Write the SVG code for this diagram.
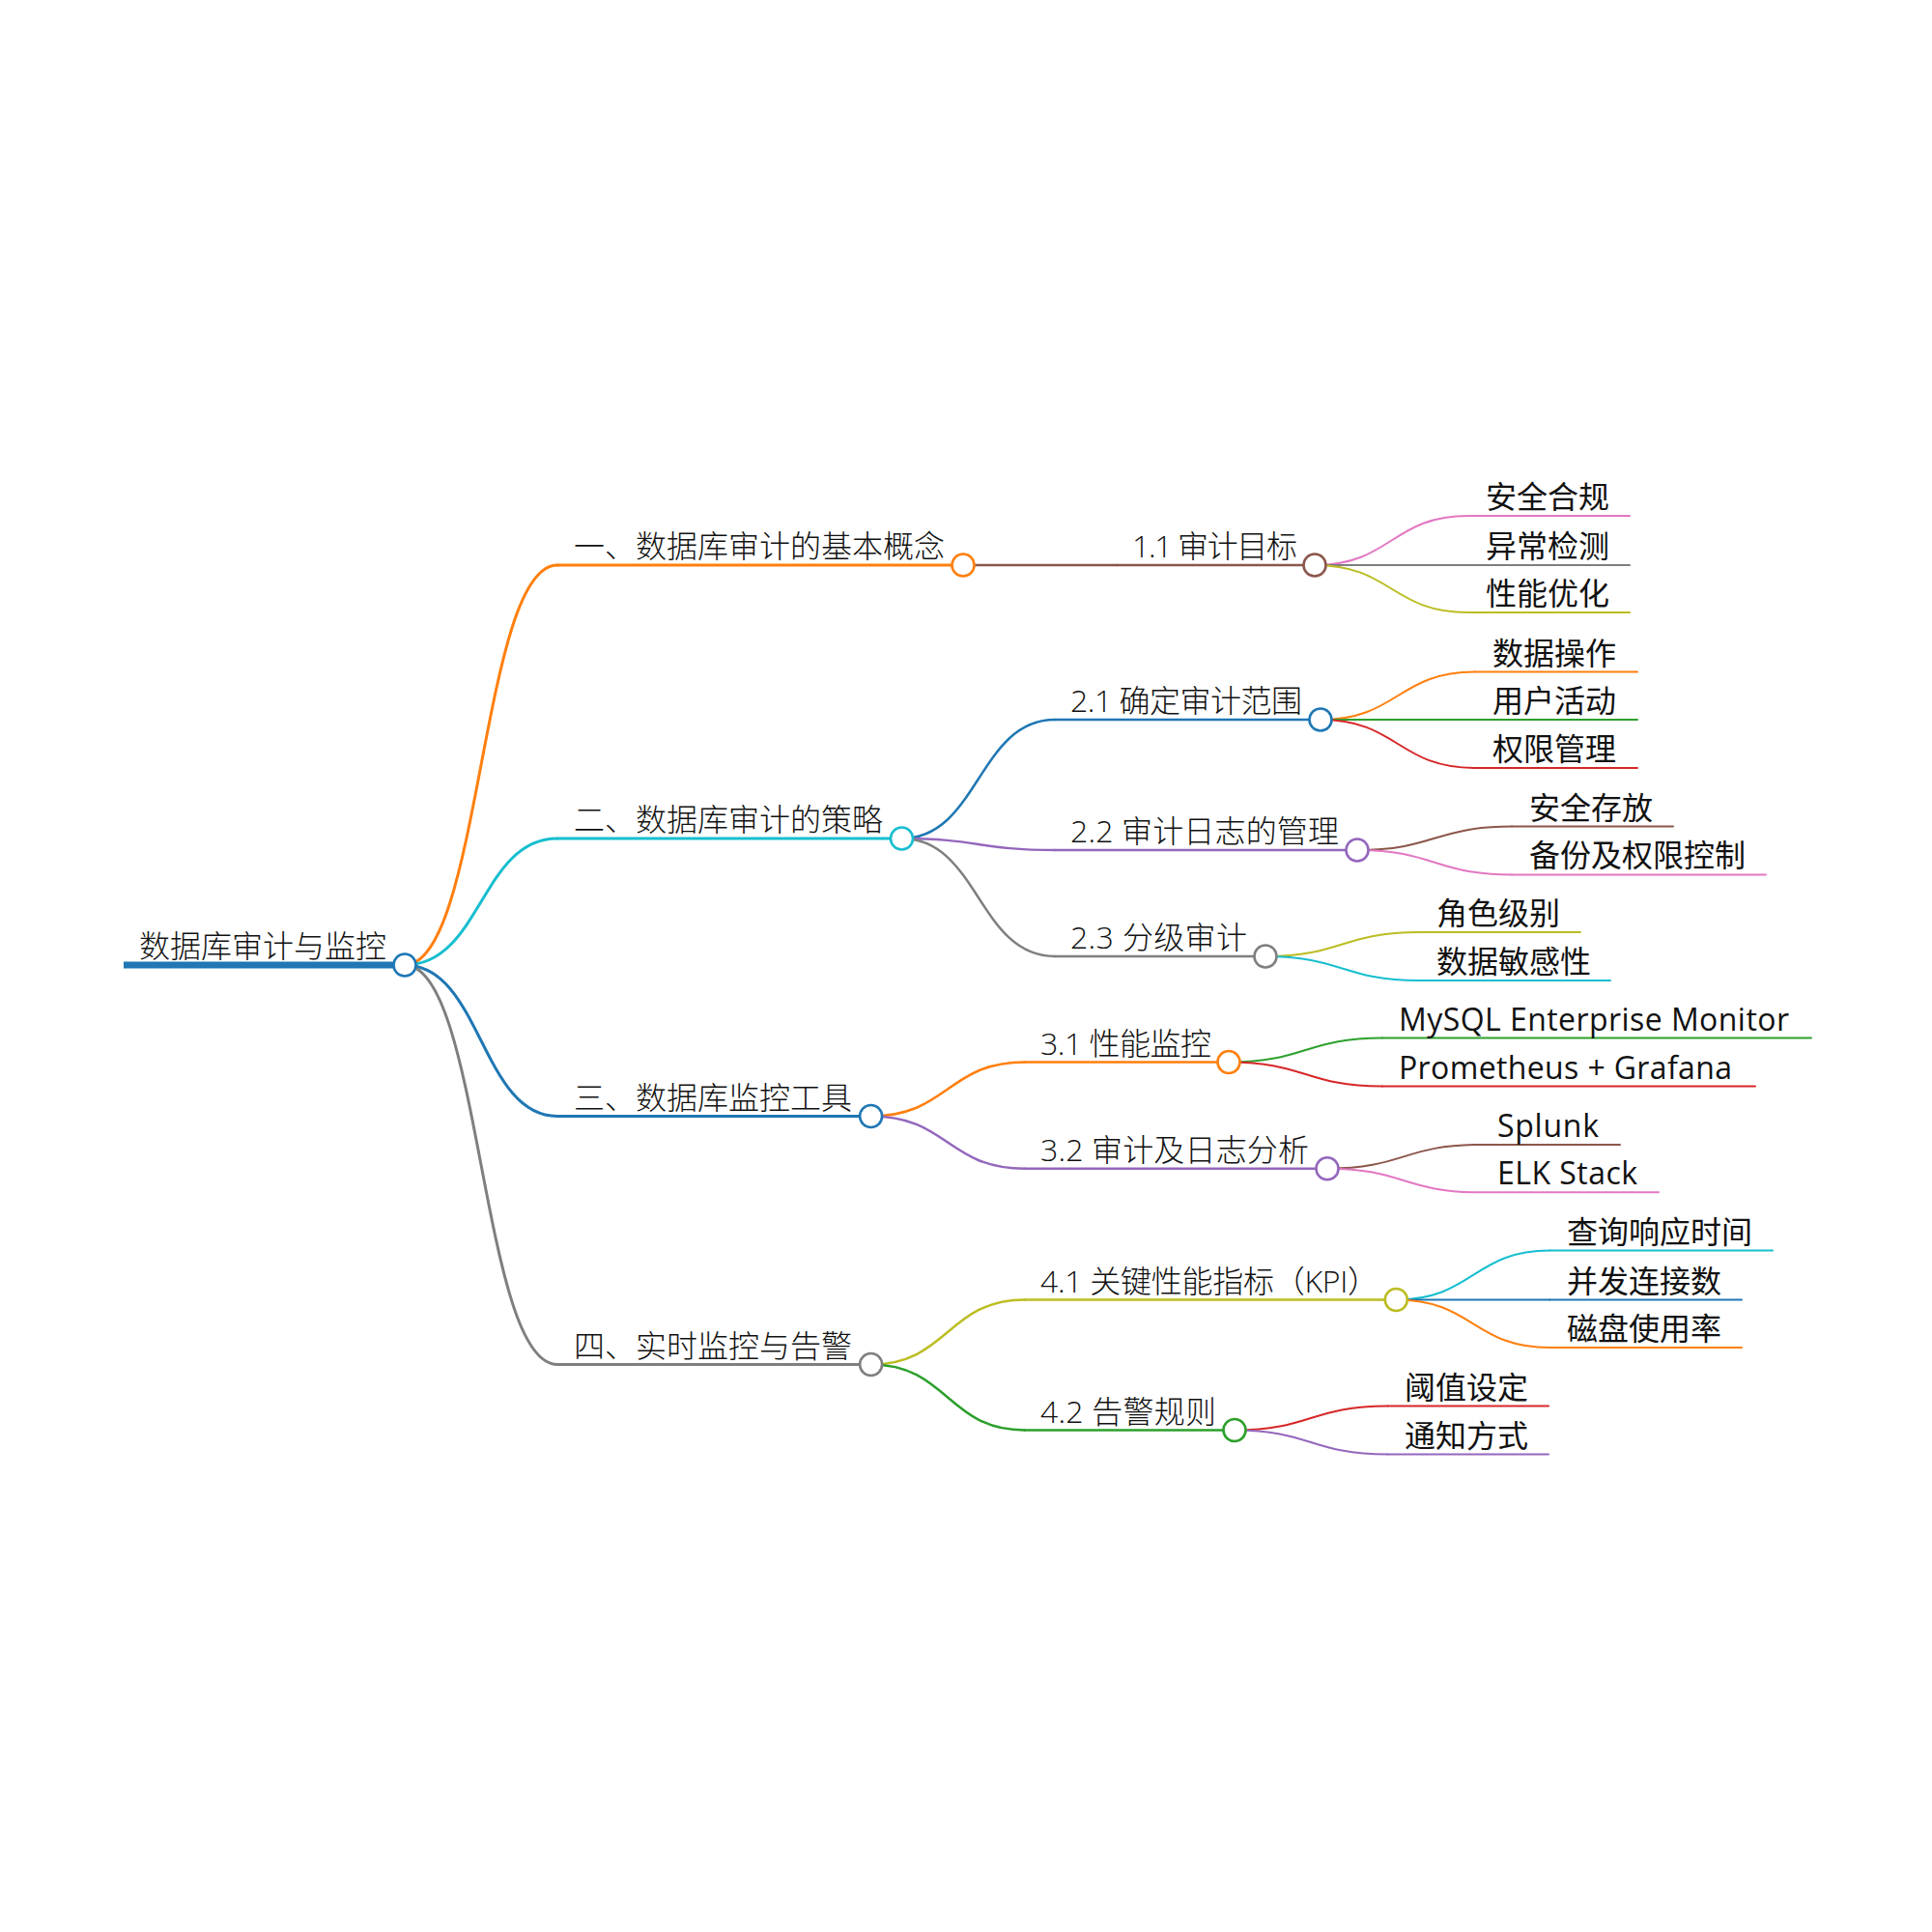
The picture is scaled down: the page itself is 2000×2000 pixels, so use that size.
<svg xmlns="http://www.w3.org/2000/svg" width="2000" height="2000" viewBox="0 0 2000 2000">
<style>
text{font-family:"Open Sans","Noto Sans CJK SC",sans-serif;font-size:32px;font-weight:300;fill:#111;}
.leaf text{font-weight:400;}
.l{fill:none;stroke-linecap:round;}
.c{fill:#fff;stroke-width:2.6;}
.w0{stroke-width:7;}
.w1{stroke-width:3;}
.w2{stroke-width:2.5;}
.w3{stroke-width:2;}
.or{stroke:#ff7f0e;}.cy{stroke:#17becf;}.bl{stroke:#1f77b4;}.gy{stroke:#7f7f7f;}
.br{stroke:#8c564b;}.pu{stroke:#9467bd;}.ol{stroke:#bcbd22;}.gr{stroke:#2ca02c;}
.rd{stroke:#d62728;}.pk{stroke:#e377c2;}
</style>
<rect width="2000" height="2000" fill="#fff"/>
<g id="connectors" class="links">
<path class="l w1 or" d="M419,999 C498,999 498,585 577,585"/>
<path class="l w1 cy" d="M419,999 C498,999 498,868 577,868"/>
<path class="l w1 bl" d="M419,999 C498,999 498,1155.5 577,1155.5"/>
<path class="l w1 gy" d="M419,999 C498,999 498,1412.5 577,1412.5"/>
<path class="l w2 br" d="M997,585 L1156,585"/>
<path class="l w2 bl" d="M933.5,868 C1012.75,868 1012.75,745 1092,745"/>
<path class="l w2 pu" d="M933.5,868 C1012.75,868 1012.75,880 1092,880"/>
<path class="l w2 gy" d="M933.5,868 C1012.75,868 1012.75,990 1092,990"/>
<path class="l w2 or" d="M901.6,1155.5 C981,1155.5 981,1099.5 1060.6,1099.5"/>
<path class="l w2 pu" d="M901.6,1155.5 C981,1155.5 981,1209.7 1060.6,1209.7"/>
<path class="l w2 ol" d="M901.6,1412.5 C981,1412.5 981,1345.5 1060.6,1345.5"/>
<path class="l w2 gr" d="M901.6,1412.5 C981,1412.5 981,1480.5 1060.6,1480.5"/>
<path class="l w3 pk" d="M1361,585 C1440.5,585 1440.5,534 1520,534"/>
<path class="l w3 gy" d="M1361,585 L1520,585"/>
<path class="l w3 ol" d="M1361,585 C1440.5,585 1440.5,634 1520,634"/>
<path class="l w3 or" d="M1367,745 C1447,745 1447,695.5 1527,695.5"/>
<path class="l w3 gr" d="M1367,745 L1527,745"/>
<path class="l w3 rd" d="M1367,745 C1447,745 1447,795 1527,795"/>
<path class="l w3 br" d="M1405,880 C1485,880 1485,855.6 1565,855.6"/>
<path class="l w3 pk" d="M1405,880 C1485,880 1485,905.4 1565,905.4"/>
<path class="l w3 ol" d="M1310,990 C1389.5,990 1389.5,965 1469,965"/>
<path class="l w3 cy" d="M1310,990 C1389.5,990 1389.5,1015 1469,1015"/>
<path class="l w3 gr" d="M1272,1099.5 C1351.5,1099.5 1351.5,1074.5 1431,1074.5"/>
<path class="l w3 rd" d="M1272,1099.5 C1351.5,1099.5 1351.5,1124.5 1431,1124.5"/>
<path class="l w3 br" d="M1374,1209.7 C1453,1209.7 1453,1185 1532,1185"/>
<path class="l w3 pk" d="M1374,1209.7 C1453,1209.7 1453,1234.3 1532,1234.3"/>
<path class="l w3 cy" d="M1445.3,1345.5 C1525,1345.5 1525,1294.5 1604.3,1294.5"/>
<path class="l w3 bl" d="M1445.3,1345.5 L1604.3,1345.5"/>
<path class="l w3 or" d="M1445.3,1345.5 C1525,1345.5 1525,1395 1604.3,1395"/>
<path class="l w3 rd" d="M1278,1480.5 C1357,1480.5 1357,1455.5 1436.5,1455.5"/>
<path class="l w3 pu" d="M1278,1480.5 C1357,1480.5 1357,1505.5 1436.5,1505.5"/>
</g>
<g id="root">
<path class="l w0 bl" style="stroke-linecap:butt" d="M128,999 L419,999"/>
<text x="144" y="991">数据库审计与监控</text>
<circle class="c bl" cx="419" cy="999" r="11.5"/>
</g>
<g id="n1">
<path class="l w1 or" d="M577,585 L997,585"/>
<text x="594" y="577">一、数据库审计的基本概念</text>
<circle class="c or" cx="997" cy="585" r="11.5"/>
</g>
<g id="n2">
<path class="l w1 cy" d="M577,868 L933.5,868"/>
<text x="594" y="860">二、数据库审计的策略</text>
<circle class="c cy" cx="933.5" cy="868" r="11.5"/>
</g>
<g id="n3">
<path class="l w1 bl" d="M577,1155.5 L901.6,1155.5"/>
<text x="594" y="1147.5">三、数据库监控工具</text>
<circle class="c bl" cx="901.6" cy="1155.5" r="11.5"/>
</g>
<g id="n4">
<path class="l w1 gy" d="M577,1412.5 L901.6,1412.5"/>
<text x="594" y="1404.5">四、实时监控与告警</text>
<circle class="c gy" cx="901.6" cy="1412.5" r="11.5"/>
</g>
<g id="n1-1">
<path class="l w2 br" d="M1156,585 L1361,585"/>
<text x="1172" y="577" textLength="171">1.1 审计目标</text>
<circle class="c br" cx="1361" cy="585" r="11.5"/>
</g>
<g id="n2-1">
<path class="l w2 bl" d="M1092,745 L1367,745"/>
<text x="1108" y="737" textLength="240">2.1 确定审计范围</text>
<circle class="c bl" cx="1367" cy="745" r="11.5"/>
</g>
<g id="n2-2">
<path class="l w2 pu" d="M1092,880 L1405,880"/>
<text x="1108" y="872" textLength="278">2.2 审计日志的管理</text>
<circle class="c pu" cx="1405" cy="880" r="11.5"/>
</g>
<g id="n2-3">
<path class="l w2 gy" d="M1092,990 L1310,990"/>
<text x="1108" y="982" textLength="183">2.3 分级审计</text>
<circle class="c gy" cx="1310" cy="990" r="11.5"/>
</g>
<g id="n3-1">
<path class="l w2 or" d="M1060.6,1099.5 L1272,1099.5"/>
<text x="1077" y="1091.5" textLength="177">3.1 性能监控</text>
<circle class="c or" cx="1272" cy="1099.5" r="11.5"/>
</g>
<g id="n3-2">
<path class="l w2 pu" d="M1060.6,1209.7 L1374,1209.7"/>
<text x="1077" y="1201.7" textLength="278">3.2 审计及日志分析</text>
<circle class="c pu" cx="1374" cy="1209.7" r="11.5"/>
</g>
<g id="n4-1">
<path class="l w2 ol" d="M1060.6,1345.5 L1445.3,1345.5"/>
<text x="1077" y="1337.5" textLength="350">4.1 关键性能指标（KPI）</text>
<circle class="c ol" cx="1445.3" cy="1345.5" r="11.5"/>
</g>
<g id="n4-2">
<path class="l w2 gr" d="M1060.6,1480.5 L1278,1480.5"/>
<text x="1077" y="1472.5" textLength="182">4.2 告警规则</text>
<circle class="c gr" cx="1278" cy="1480.5" r="11.5"/>
</g>
<g class="leaf">
<g id="n1-1-1"><path class="l w3 pk" d="M1520,534 L1687,534"/><text x="1538" y="526">安全合规</text></g>
<g id="n1-1-2"><path class="l w3 gy" d="M1520,585 L1687,585"/><text x="1538" y="577">异常检测</text></g>
<g id="n1-1-3"><path class="l w3 ol" d="M1520,634 L1687,634"/><text x="1538" y="626">性能优化</text></g>
<g id="n2-1-1"><path class="l w3 or" d="M1527,695.5 L1695,695.5"/><text x="1545" y="687.5">数据操作</text></g>
<g id="n2-1-2"><path class="l w3 gr" d="M1527,745 L1695,745"/><text x="1545" y="737">用户活动</text></g>
<g id="n2-1-3"><path class="l w3 rd" d="M1527,795 L1695,795"/><text x="1545" y="787">权限管理</text></g>
<g id="n2-2-1"><path class="l w3 br" d="M1565,855.6 L1732,855.6"/><text x="1583" y="847.6">安全存放</text></g>
<g id="n2-2-2"><path class="l w3 pk" d="M1565,905.4 L1828,905.4"/><text x="1583" y="897.4">备份及权限控制</text></g>
<g id="n2-3-1"><path class="l w3 ol" d="M1469,965 L1636,965"/><text x="1487" y="957">角色级别</text></g>
<g id="n2-3-2"><path class="l w3 cy" d="M1469,1015 L1667,1015"/><text x="1487" y="1007">数据敏感性</text></g>
<g id="n3-1-1"><path class="l w3 gr" d="M1431,1074.5 L1875,1074.5"/><text x="1448" y="1066.5" textLength="404">MySQL Enterprise Monitor</text></g>
<g id="n3-1-2"><path class="l w3 rd" d="M1431,1124.5 L1817,1124.5"/><text x="1448" y="1116.5" textLength="345">Prometheus + Grafana</text></g>
<g id="n3-2-1"><path class="l w3 br" d="M1532,1185 L1677,1185"/><text x="1550" y="1177" textLength="105">Splunk</text></g>
<g id="n3-2-2"><path class="l w3 pk" d="M1532,1234.3 L1717,1234.3"/><text x="1550" y="1226.3" textLength="145">ELK Stack</text></g>
<g id="n4-1-1"><path class="l w3 cy" d="M1604.3,1294.5 L1835,1294.5"/><text x="1622" y="1286.5">查询响应时间</text></g>
<g id="n4-1-2"><path class="l w3 bl" d="M1604.3,1345.5 L1803,1345.5"/><text x="1622" y="1337.5">并发连接数</text></g>
<g id="n4-1-3"><path class="l w3 or" d="M1604.3,1395 L1803,1395"/><text x="1622" y="1387">磁盘使用率</text></g>
<g id="n4-2-1"><path class="l w3 rd" d="M1436.5,1455.5 L1603,1455.5"/><text x="1454" y="1447.5">阈值设定</text></g>
<g id="n4-2-2"><path class="l w3 pu" d="M1436.5,1505.5 L1603,1505.5"/><text x="1454" y="1497.5">通知方式</text></g>
</g>
</svg>
